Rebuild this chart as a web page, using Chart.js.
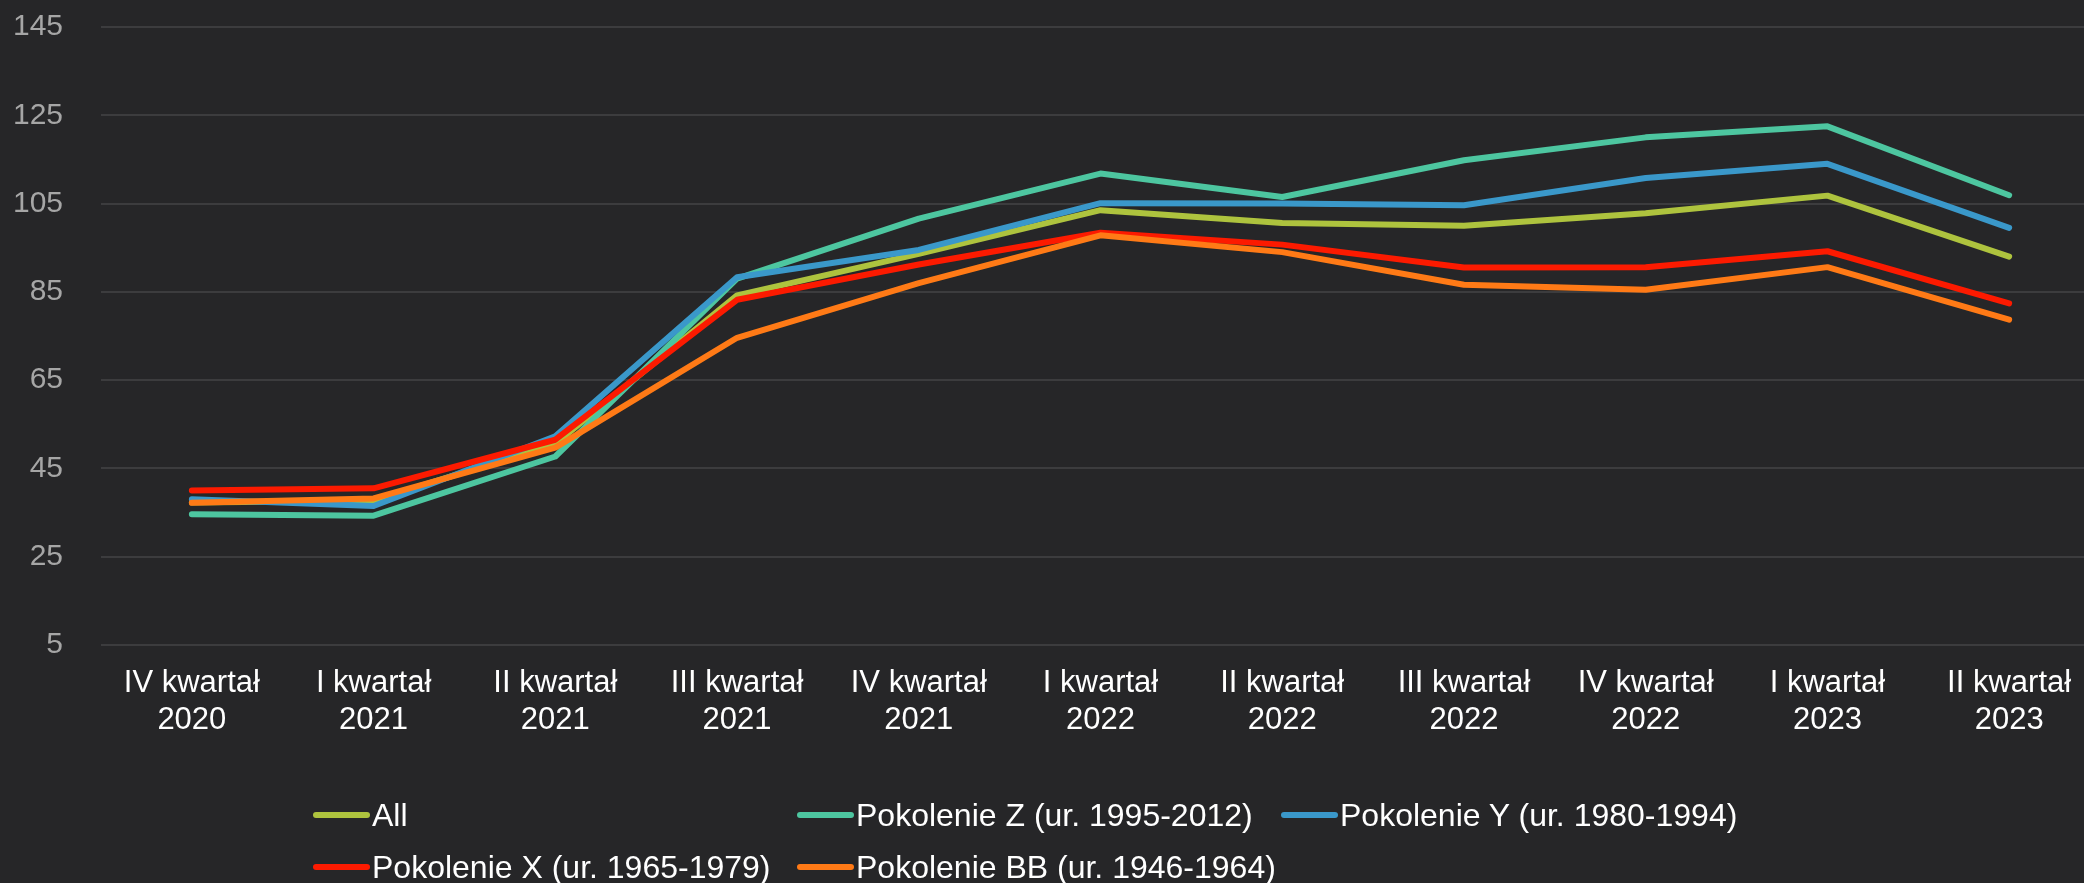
<!DOCTYPE html>
<html>
<head>
<meta charset="utf-8">
<script src="https://cdn.jsdelivr.net/npm/chart.js@4/dist/chart.umd.min.js"></script>
<style>
    html, body { margin: 0; padding: 0; background: #262628; overflow: hidden; }
    #wrap { position: relative; width: 2100px; height: 883px; }
    #legend {
        position: absolute; left: 313px; top: 797px;
        display: grid; grid-template-columns: 484px 484px 484px; row-gap: 16px;
        font-family: "Liberation Sans", Arial, sans-serif; font-size: 32px; color: #ffffff;
    }
    .item { display: flex; align-items: center; height: 36px; white-space: nowrap; }
    .swatch { width: 57px; height: 6px; border-radius: 3px; margin-right: 2px; }
</style>
</head>
<body>
<div id="wrap">
    <canvas id="chart" width="2100" height="883"></canvas>
    <div id="legend"></div>
</div>
<script>
// --- DATA ---
const quarters = [
    ['IV kwartał', '2020'], ['I kwartał', '2021'], ['II kwartał', '2021'], ['III kwartał', '2021'],
    ['IV kwartał', '2021'], ['I kwartał', '2022'], ['II kwartał', '2022'], ['III kwartał', '2022'],
    ['IV kwartał', '2022'], ['I kwartał', '2023'], ['II kwartał', '2023']
];
const allValues = [37.3, 37.7, 50.6, 84.2, 93.6, 103.5, 100.6, 100.0, 102.8, 106.8, 93.0];
const genZ      = [34.6, 34.3, 47.7, 88.0, 101.6, 111.8, 106.5, 114.8, 120.0, 122.5, 106.9];
const genY      = [38.0, 36.5, 52.3, 88.3, 94.5, 105.1, 105.0, 104.6, 110.8, 114.0, 99.5];
const genX      = [40.0, 40.5, 51.5, 83.2, 91.2, 98.4, 95.7, 90.5, 90.6, 94.2, 82.4];
const genBB     = [37.2, 38.2, 49.7, 74.6, 87.0, 97.8, 94.0, 86.6, 85.5, 90.6, 78.7];
const yTicks    = [5, 25, 45, 65, 85, 105, 125, 145];

const series = [
    { label: 'All', data: allValues, color: '#aec33e' },
    { label: 'Pokolenie Z (ur. 1995-2012)', data: genZ, color: '#4dc6a0' },
    { label: 'Pokolenie Y (ur. 1980-1994)', data: genY, color: '#3a98ca' },
    { label: 'Pokolenie X (ur. 1965-1979)', data: genX, color: '#fc1a00' },
    { label: 'Pokolenie BB (ur. 1946-1964)', data: genBB, color: '#ff7a16' }
];

const font = "'Liberation Sans', Arial, sans-serif";

// later series drawn on top (like the original)
const datasets = series.map((s, i) => ({
    label: s.label,
    data: s.data,
    borderColor: s.color,
    backgroundColor: s.color,
    borderWidth: 6,
    borderCapStyle: 'round',
    borderJoinStyle: 'round',
    pointRadius: 0,
    tension: 0,
    order: series.length - i
}));

new Chart(document.getElementById('chart').getContext('2d'), {
    type: 'line',
    data: { labels: quarters, datasets: datasets },
    options: {
        responsive: false,
        animation: false,
        layout: { padding: { top: 27, right: 0, left: 0, bottom: 0 } },
        plugins: { legend: { display: false }, tooltip: { enabled: false } },
        scales: {
            x: {
                offset: true,
                grid: { display: false, drawTicks: false },
                border: { display: false },
                ticks: { color: '#ffffff', font: { family: font, size: 31, lineHeight: 1.2 }, padding: 20, maxRotation: 0, autoSkip: false },
                afterFit: (scale) => { scale.height = 238; }
            },
            y: {
                min: 5, max: 145,
                afterBuildTicks: (scale) => { scale.ticks = yTicks.map(v => ({ value: v })); },
                grid: { color: '#3c3c3e', lineWidth: 2, drawTicks: false },
                border: { display: false },
                ticks: { color: '#a6a6a6', font: { family: font, size: 30 }, padding: 38 },
                afterFit: (scale) => {
                    scale.width = 101;
                    // keep the tick padding from pushing the plot down
                    scale.paddingTop = 0;
                    scale.paddingBottom = 0;
                }
            }
        }
    }
});

// legend laid out in columns like the original
const legendBox = document.getElementById('legend');
series.forEach(s => {
    const item = document.createElement('div');
    item.className = 'item';
    item.innerHTML = `<span class="swatch" style="background:${s.color}"></span><span>${s.label}</span>`;
    legendBox.appendChild(item);
});
</script>
</body>
</html>
